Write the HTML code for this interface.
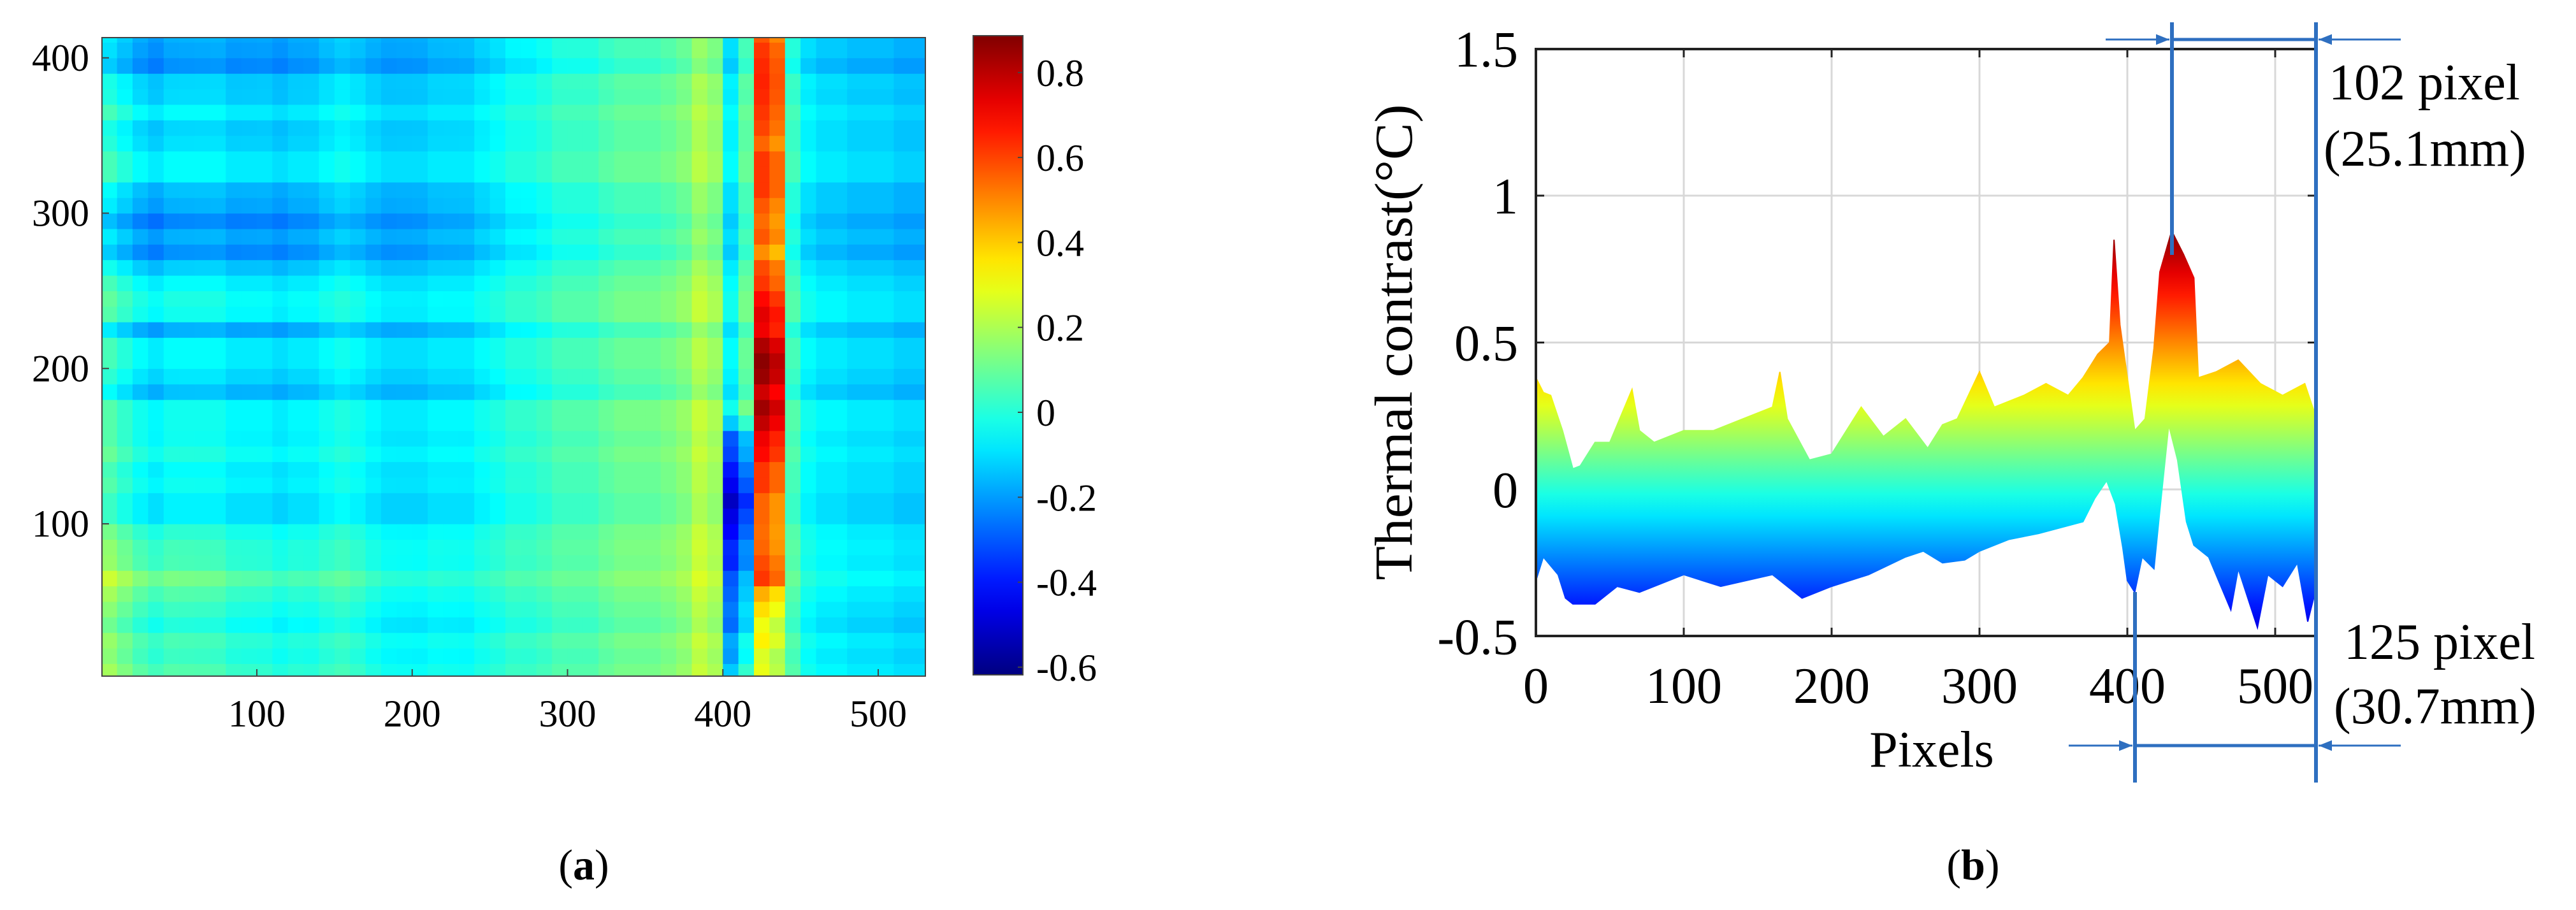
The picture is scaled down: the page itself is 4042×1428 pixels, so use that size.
<!DOCTYPE html>
<html><head><meta charset="utf-8"><style>
html,body{margin:0;padding:0;background:#fff;}
svg{display:block;font-family:"Liberation Serif",serif;}
</style></head><body>
<svg id="fig" width="4042" height="1428" viewBox="0 0 4042 1428" xmlns="http://www.w3.org/2000/svg">
<defs>
<linearGradient id="cbGrad" x1="0" y1="1" x2="0" y2="0"></linearGradient>
<linearGradient id="bandGrad" gradientUnits="userSpaceOnUse" x1="0" x2="0"></linearGradient>
<clipPath id="hmClip"><rect x="160" y="59" width="1292" height="1002"/></clipPath>
<marker id="arr" viewBox="0 0 10 10" refX="10" refY="5" markerWidth="7" markerHeight="7" orient="auto-start-reverse"><path d="M0,1 L10,5 L0,9 z" fill="#2e6fc0"/></marker>
</defs>
<g id="heatmap"></g>
<g id="colorbar"></g>
<g id="waterfall"></g>
<g id="annot"></g>
<text x="916" y="1380" font-size="68" text-anchor="middle">(<tspan font-weight="bold">a</tspan>)</text>
<text x="3096" y="1380" font-size="68" text-anchor="middle">(<tspan font-weight="bold">b</tspan>)</text>
</svg>
<script>
// ---------- data: heatmap ----------
const colBase=[0.05,0,-0.05,-0.08,-0.05,-0.05,-0.05,-0.05,-0.08,-0.08,
-0.08,-0.1,-0.08,-0.08,-0.05,-0.03,-0.05,-0.08,-0.1,-0.1,
-0.1,-0.08,-0.08,-0.08,-0.05,-0.03,0,0,0.02,0.05,
0.05,0.05,0.08,0.1,0.1,0.1,0.12,0.15,0.22,0.18,
-0.05,0.1,0.62,0.55,0.05,-0.05,-0.08,-0.08,-0.1,-0.1,
-0.1,-0.12,-0.12];
const rowOff=[0.02,0,0.02,-0.02,0,0.02,0.05,0.02,0.03,0.02,-0.02,-0.02,0,0,0.02,0,0.02,0.02,-0.05,-0.02,0,0,-0.05,0.02,0.02,0,-0.03,-0.08,-0.05,-0.08,-0.05,-0.05,0,0,-0.02,-0.02,0,-0.03,-0.02,-0.08,-0.05,-0.05];
const leftOff=[0.12,0.1,0.1,0.08,0.1,0.12,0.15,0.1,0.08,0.05,0,0,0.02,0,0.03,0.02,0,0,-0.05,-0.02,0,0,-0.08,0,0.02,0,-0.05,-0.1,-0.08,-0.12,-0.08,-0.05,0,0,-0.03,-0.05,0,-0.03,-0.05,-0.1,-0.1,-0.08];
const stripeAdj=[-0.35,-0.35,-0.3,-0.3,-0.25,-0.2,-0.05,-0.05,-0.1,-0.1,-0.05,-0.05,0,0,0.05,0.1,0.15,0.2,0.2,0.25,0.25,0.2,0.15,0.1,0.05,0,0,-0.05,0,0,0,0.05,0,0,-0.05,0,0,0.05,0.05,0.1,0.05,0];
const darkAdj=[-0.1,-0.15,-0.15,-0.2,-0.2,-0.25,-0.3,-0.35,-0.35,-0.4,-0.4,-0.45,-0.4,-0.35,-0.3,-0.25,-0.1,0,0,0,0,0,0,0,0,0,0,0,0,0,0,0,0,0,0,0,0,0,0,0,0,0];
const hmXTicks=[100,200,300,400,500];
const hmYTicks=[100,200,300,400];
const cbTicks=[0.8,0.6,0.4,0.2,0,-0.2,-0.4,-0.6];
// ---------- data: waterfall envelope ----------
const upX=[0,5,10,18,25,30,40,50,65,70,80,100,120,140,160,165,170,185,200,210,220,235,250,265,275,285,300,310,330,345,360,370,380,388,391,395,400,405,412,418,422,430,438,445,448,460,475,490,505,520,528];
const upV=[0.38,0.33,0.32,0.2,0.07,0.08,0.16,0.16,0.34,0.2,0.16,0.2,0.2,0.24,0.28,0.4,0.24,0.1,0.12,0.2,0.28,0.18,0.24,0.14,0.22,0.24,0.4,0.28,0.32,0.36,0.32,0.38,0.46,0.5,0.85,0.56,0.38,0.2,0.24,0.48,0.74,0.88,0.8,0.72,0.38,0.4,0.44,0.36,0.32,0.36,0.24];
const loX=[0,5,15,20,25,40,55,70,100,125,160,180,200,225,250,262,275,290,300,320,340,370,378,386,392,397,400,405,410,418,422,428,434,440,445,455,470,475,488,495,505,515,522,528];
const loV=[-0.31,-0.23,-0.29,-0.37,-0.39,-0.39,-0.33,-0.35,-0.29,-0.33,-0.29,-0.37,-0.33,-0.29,-0.23,-0.21,-0.25,-0.24,-0.21,-0.17,-0.15,-0.11,-0.03,0.03,-0.05,-0.2,-0.31,-0.35,-0.23,-0.27,-0.07,0.22,0.1,-0.11,-0.19,-0.23,-0.41,-0.27,-0.47,-0.29,-0.33,-0.25,-0.45,-0.33];
const wfXTicks=[0,100,200,300,400,500];
const wfYTicks=[1.5,1,0.5,0,-0.5];

const NS="http://www.w3.org/2000/svg";
const VMIN=-0.618,VMAX=0.887;
function cl(v){return Math.max(0,Math.min(1,v));}
function jet(t){t=cl(t);const r=cl(1.5-Math.abs(4*t-3)),g=cl(1.5-Math.abs(4*t-2)),b=cl(1.5-Math.abs(4*t-1));
return `rgb(${Math.round(r*255)},${Math.round(g*255)},${Math.round(b*255)})`;}
function vcol(v){return jet((v-VMIN)/(VMAX-VMIN));}
function mk(tag,attrs,parent){const e=document.createElementNS(NS,tag);for(const k in attrs)e.setAttribute(k,attrs[k]);parent.appendChild(e);return e;}

// ---------- heatmap ----------
const hx=x=>159.25+x*2.4375, hy=y=>1065.75-y*2.4375;
const hm=document.getElementById('heatmap');
const cells=mk('g',{'clip-path':'url(#hmClip)'},hm);


for(let r=0;r<rowOff.length;r++){for(let c=0;c<colBase.length;c++){
 const xc=c*10+5;
 let v=colBase[c]+rowOff[r]+leftOff[r]*Math.max(0,1-xc/300);
 if(c===42||c===43)v+=stripeAdj[r];
 if(c===40||c===41)v+=darkAdj[r];
 const rc=mk('rect',{x:hx(c*10),y:hy(r*10+10),width:hx(10)-hx(0)+0.6,height:hy(0)-hy(10)+0.6,fill:vcol(v)},cells);
 
 
}}
const hb=mk('rect',{x:160,y:59,width:1292,height:1002,fill:'none',stroke:'#444','stroke-width':2},hm);


hmXTicks.forEach(t=>{
 mk('line',{x1:hx(t),x2:hx(t),y1:1061,y2:1050,stroke:'#444','stroke-width':2},hm);
 const tx=mk('text',{x:hx(t),y:1140,'font-size':60,'text-anchor':'middle'},hm);tx.textContent=t;
 
 
});
hmYTicks.forEach(t=>{
 mk('line',{x1:160,x2:171,y1:hy(t),y2:hy(t),stroke:'#444','stroke-width':2},hm);
 const tx=mk('text',{x:140,y:hy(t)+20,'font-size':60,'text-anchor':'end'},hm);tx.textContent=t;
 
 
});
// ---------- colorbar ----------
const g=document.getElementById('cbGrad');
for(let i=0;i<=20;i++){mk('stop',{offset:i/20,'stop-color':jet(i/20)},g);}
const cb=document.getElementById('colorbar');
const cy=v=>647-v*666.5;
const cbr=mk('rect',{x:1527,y:56,width:78,height:1003,fill:'url(#cbGrad)',stroke:'#444','stroke-width':2},cb);


cbTicks.forEach(t=>{
 mk('line',{x1:1597,x2:1605,y1:cy(t),y2:cy(t),stroke:'#444','stroke-width':2},cb);
 const tx=mk('text',{x:1626,y:cy(t)+21,'font-size':60},cb);tx.textContent=(t===0?'0':t.toString());
 
 
});
// ---------- waterfall ----------
const wx=x=>2410+x*2.32, wy=v=>768-v*461;
const bg=document.getElementById('bandGrad');
bg.setAttribute('y1',wy(VMIN));bg.setAttribute('y2',wy(VMAX));
for(let i=0;i<=20;i++){mk('stop',{offset:i/20,'stop-color':jet(i/20)},bg);}
const wf=document.getElementById('waterfall');
wfXTicks.forEach(t=>{
 mk('line',{x1:wx(t),x2:wx(t),y1:77,y2:998,stroke:'#d8d8d8','stroke-width':3},wf);
 mk('line',{x1:wx(t),x2:wx(t),y1:998,y2:985,stroke:'#222','stroke-width':3},wf);
 mk('line',{x1:wx(t),x2:wx(t),y1:77,y2:90,stroke:'#222','stroke-width':3},wf);
 const tx=mk('text',{x:wx(t),y:1103,'font-size':80,'text-anchor':'middle'},wf);tx.textContent=t;
 
 
});
wfYTicks.forEach(t=>{
 mk('line',{x1:2410,x2:3634,y1:wy(t),y2:wy(t),stroke:'#d8d8d8','stroke-width':3},wf);
 mk('line',{x1:2410,x2:2423,y1:wy(t),y2:wy(t),stroke:'#222','stroke-width':3},wf);
 mk('line',{x1:3621,x2:3634,y1:wy(t),y2:wy(t),stroke:'#222','stroke-width':3},wf);
 const tx=mk('text',{x:2382,y:wy(t)+28,'font-size':80,'text-anchor':'end'},wf);tx.textContent=t;
 
 
});
let pts=upX.map((x,i)=>wx(x)+','+wy(upV[i]));
for(let i=loX.length-1;i>=0;i--)pts.push(wx(loX[i])+','+wy(loV[i]));
const band=mk('polygon',{points:pts.join(' '),fill:'url(#bandGrad)',stroke:'url(#bandGrad)','stroke-width':2},wf);


const box=mk('rect',{x:2410,y:77,width:1224,height:921,fill:'none',stroke:'#222','stroke-width':4},wf);


const yl=mk('text',{x:0,y:0,'font-size':84,'text-anchor':'middle',transform:'translate(2215,537) rotate(-90)',textLength:747,lengthAdjust:'spacingAndGlyphs'},wf);
yl.textContent='Thermal contrast(°C)';


const xl=mk('text',{x:3031,y:1203,'font-size':80,'text-anchor':'middle'},wf);
xl.textContent='Pixels';


// ---------- annotations ----------
const an=document.getElementById('annot');
const C='#2e6fc0';
function ln(x1,y1,x2,y2,w,name,arrow){const l=mk('line',{x1,y1,x2,y2,stroke:C,'stroke-width':w},an);if(arrow)l.setAttribute('marker-end','url(#arr)');
 
 }
ln(3408,35,3408,400,6,'peak-marker-line');
ln(3634,35,3634,1228,6,'right-edge-marker-line');
ln(3350,929,3350,1228,6,'dip-marker-line');
ln(3408,62,3634,62,5,'width-102-line');
ln(3350,1170,3634,1170,5,'width-125-line');
ln(3304,62,3404,62,3,'arrow-102-left',true);
ln(3767,62,3638,62,3,'arrow-102-right',true);
ln(3246,1170,3346,1170,3,'arrow-125-left',true);
ln(3767,1170,3638,1170,3,'arrow-125-right',true);
[['102 pixel',3654,156],['(25.1mm)',3646,260],['125 pixel',3678,1034],['(30.7mm)',3662,1135]].forEach(a=>{
 const t=mk('text',{x:a[1],y:a[2],'font-size':80},an);t.textContent=a[0];
 
 
});
</script>
</body></html>
